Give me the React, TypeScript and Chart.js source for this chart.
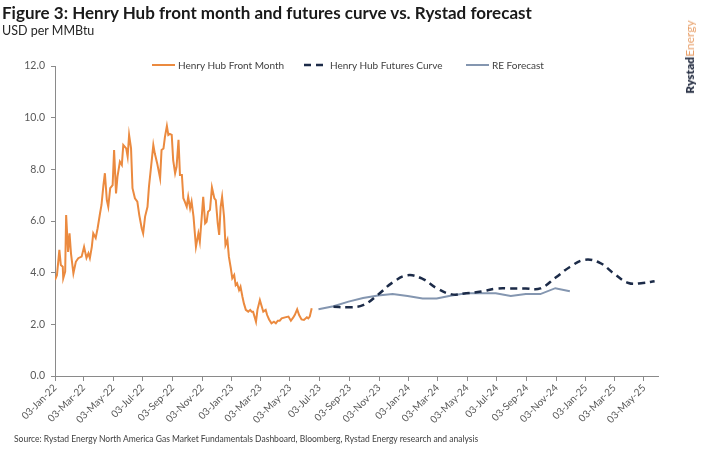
import React, { useEffect, useRef } from 'react';
import { Chart, registerables } from 'chart.js';

Chart.register(...registerables);

// Henry Hub front month (USD/MMBtu)
const hhDates = [
  '2022-01-03', '2022-01-07', '2022-01-12', '2022-01-15', '2022-01-19', '2022-01-20', '2022-01-24', '2022-01-26',
  '2022-01-30', '2022-02-02', '2022-02-05', '2022-02-10', '2022-02-15', '2022-02-20', '2022-02-27', '2022-03-04',
  '2022-03-09', '2022-03-13', '2022-03-16', '2022-03-20', '2022-03-23', '2022-03-28', '2022-04-01', '2022-04-06',
  '2022-04-09', '2022-04-13', '2022-04-16', '2022-04-20', '2022-04-23', '2022-04-27', '2022-05-02', '2022-05-05',
  '2022-05-09', '2022-05-12', '2022-05-17', '2022-05-21', '2022-05-24', '2022-05-30', '2022-06-02', '2022-06-05',
  '2022-06-09', '2022-06-12', '2022-06-17', '2022-06-22', '2022-06-26', '2022-07-01', '2022-07-04', '2022-07-08',
  '2022-07-13', '2022-07-16', '2022-07-20', '2022-07-25', '2022-07-28', '2022-08-02', '2022-08-08', '2022-08-11',
  '2022-08-15', '2022-08-18', '2022-08-22', '2022-08-25', '2022-08-28', '2022-09-01', '2022-09-04', '2022-09-08',
  '2022-09-11', '2022-09-15', '2022-09-18', '2022-09-22', '2022-09-25', '2022-09-28', '2022-10-02', '2022-10-05',
  '2022-10-09', '2022-10-12', '2022-10-16', '2022-10-21', '2022-10-26', '2022-10-29', '2022-11-02', '2022-11-05',
  '2022-11-09', '2022-11-12', '2022-11-15', '2022-11-19', '2022-11-23', '2022-11-28', '2022-12-01', '2022-12-05',
  '2022-12-08', '2022-12-11', '2022-12-14', '2022-12-18', '2022-12-21', '2022-12-25', '2022-12-28', '2023-01-01',
  '2023-01-04', '2023-01-08', '2023-01-11', '2023-01-14', '2023-01-18', '2023-01-21', '2023-01-25', '2023-01-28',
  '2023-02-01', '2023-02-06', '2023-02-10', '2023-02-13', '2023-02-16', '2023-02-22', '2023-02-25', '2023-03-02',
  '2023-03-06', '2023-03-09', '2023-03-14', '2023-03-17', '2023-03-21', '2023-03-26', '2023-03-31', '2023-04-04',
  '2023-04-08', '2023-04-12', '2023-04-16', '2023-04-23', '2023-04-30', '2023-05-05', '2023-05-10', '2023-05-13',
  '2023-05-18', '2023-05-22', '2023-05-27', '2023-06-01', '2023-06-07', '2023-06-10', '2023-06-13', '2023-06-17',
];
const hhValues = [
  3.72, 3.9, 4.88, 4.3, 4.23, 3.78, 4.04, 6.23,
  4.8, 5.52, 4.75, 3.97, 4.42, 4.56, 4.62, 5.0,
  4.57, 4.75, 4.56, 5.0, 5.52, 5.34, 5.72, 6.3,
  6.62, 7.39, 7.85, 6.81, 6.55, 7.27, 7.39, 8.75,
  7.07, 7.72, 8.3, 8.17, 8.94, 8.81, 8.49, 9.33,
  8.81, 7.27, 6.88, 6.75, 6.23, 5.72, 5.52, 6.17,
  6.55, 7.33, 8.04, 8.94, 8.62, 8.23, 7.65, 8.75,
  8.81, 9.26, 9.68, 9.33, 9.37, 9.33, 8.36, 7.85,
  8.1, 9.14, 7.78, 7.78, 6.88, 6.75, 6.55, 6.94,
  6.49, 6.75, 6.17, 5.0, 5.52, 5.2, 6.17, 6.94,
  5.91, 5.97, 6.36, 6.43, 7.3, 6.88, 6.81, 5.91,
  5.46, 6.55, 6.94, 6.17, 5.07, 5.27, 4.62, 4.17,
  3.78, 3.91, 3.52, 3.59, 3.33, 3.46, 3.07, 2.81,
  2.56, 2.49, 2.56, 2.49, 2.49, 2.1, 2.56, 2.94,
  2.68, 2.49, 2.56, 2.36, 2.19, 2.04, 2.1, 2.04,
  2.14, 2.14, 2.23, 2.27, 2.3, 2.14, 2.27, 2.36,
  2.58, 2.36, 2.19, 2.17, 2.27, 2.23, 2.3, 2.62,
];

// Henry Hub futures curve
const futDates = [
  '2023-08-01', '2023-09-01', '2023-10-01', '2023-11-01', '2023-12-01', '2024-01-01', '2024-02-01', '2024-03-01',
  '2024-04-01', '2024-05-01', '2024-06-01', '2024-07-01', '2024-08-01', '2024-09-01', '2024-10-01', '2024-11-01',
  '2024-12-01', '2025-01-01', '2025-02-01', '2025-03-01', '2025-04-01', '2025-05-01', '2025-05-25',
];
const futValues = [
  2.68, 2.66, 2.74, 3.15, 3.62, 3.9, 3.76, 3.4,
  3.16, 3.2, 3.27, 3.38, 3.39, 3.39, 3.39, 3.8,
  4.22, 4.5, 4.38, 3.98, 3.6, 3.6, 3.67,
];

// Rystad Energy forecast
const reDates = [
  '2023-07-01', '2023-08-01', '2023-09-01', '2023-10-01', '2023-11-01', '2023-12-01', '2024-01-01', '2024-02-01',
  '2024-03-01', '2024-04-01', '2024-05-01', '2024-06-01', '2024-07-01', '2024-08-01', '2024-09-01', '2024-10-01',
  '2024-11-01', '2024-12-01',
];
const reValues = [
  2.58, 2.7, 2.88, 3.02, 3.12, 3.17, 3.1, 3.0,
  3.0, 3.12, 3.2, 3.2, 3.2, 3.1, 3.17, 3.17,
  3.4, 3.28,
];

const xTickLabels = [
  '03-Jan-22', '03-Mar-22', '03-May-22', '03-Jul-22', '03-Sep-22', '03-Nov-22', '03-Jan-23',
  '03-Mar-23', '03-May-23', '03-Jul-23', '03-Sep-23', '03-Nov-23', '03-Jan-24', '03-Mar-24',
  '03-May-24', '03-Jul-24', '03-Sep-24', '03-Nov-24', '03-Jan-25', '03-Mar-25', '03-May-25',
];
const xMinDate = '2022-01-03';
const xMaxDate = '2025-06-01';

const MONTHS = ['Jan', 'Feb', 'Mar', 'Apr', 'May', 'Jun', 'Jul', 'Aug', 'Sep', 'Oct', 'Nov', 'Dec'];
const isoDay = (s: string) => {
  const [y, m, d] = s.split('-').map(Number);
  return Date.UTC(y, m - 1, d) / 864e5;
};
const labelDay = (s: string) => {
  const [d, mon, yy] = s.split('-');
  return Date.UTC(2000 + Number(yy), MONTHS.indexOf(mon), Number(d)) / 864e5;
};
const pts = (dates: string[], vals: number[]) => dates.map((d, i) => ({ x: isoDay(d), y: vals[i] }));

const ORANGE = '#EB8A3F';
const NAVY = '#1C2B48';
const GREY = '#8496B0';
const AXIS = '#8a8a8a';
const TEXT = '#595959';
const FONT = 'Lato, "Open Sans", sans-serif';

export default function App() {
  const ref = useRef<HTMLCanvasElement | null>(null);

  useEffect(() => {
    if (!ref.current) return;
    const tickDays = xTickLabels.map(labelDay);
    const chart = new Chart(ref.current, {
      type: 'line',
      data: {
        datasets: [
          {
            label: 'Henry Hub Front Month',
            data: pts(hhDates, hhValues),
            borderColor: ORANGE,
            borderWidth: 2,
            pointRadius: 0,
            tension: 0,
          },
          {
            label: 'Henry Hub Futures Curve',
            data: pts(futDates, futValues),
            borderColor: NAVY,
            borderWidth: 2.5,
            borderDash: [7, 5],
            pointRadius: 0,
            tension: 0.4,
          },
          {
            label: 'RE Forecast',
            data: pts(reDates, reValues),
            borderColor: GREY,
            borderWidth: 2,
            pointRadius: 0,
            tension: 0,
          },
        ],
      },
      options: {
        animation: false,
        responsive: false,
        events: [],
        layout: { padding: { top: 66, right: 44, left: 0, bottom: 0 } },
        plugins: { legend: { display: false }, tooltip: { enabled: false } },
        scales: {
          x: {
            type: 'linear',
            min: isoDay(xMinDate),
            max: isoDay(xMaxDate),
            afterBuildTicks: (scale: any) => {
              scale.ticks = tickDays.map((v) => ({ value: v }));
            },
            afterFit: (scale: any) => {
              scale.height = 74;
            },
            grid: { display: true, drawOnChartArea: false, drawTicks: true, tickLength: 5, color: AXIS },
            border: { display: true, color: AXIS, width: 1 },
            ticks: {
              autoSkip: false,
              maxRotation: 45,
              minRotation: 45,
              padding: 1,
              color: TEXT,
              font: { family: FONT, size: 10 },
              callback: (_v: any, i: number) => xTickLabels[i],
            },
          },
          y: {
            min: 0,
            max: 12,
            afterFit: (scale: any) => {
              scale.width = 55;
            },
            grid: { display: true, drawOnChartArea: false, drawTicks: true, tickLength: 4, color: AXIS },
            border: { display: true, color: AXIS, width: 1 },
            ticks: {
              stepSize: 2,
              padding: 6,
              color: TEXT,
              font: { family: FONT, size: 10.5 },
              callback: (v: any) => Number(v).toFixed(1),
            },
          },
        },
      },
    } as any);
    return () => chart.destroy();
  }, []);

  const legendItems = [
    { label: 'Henry Hub Front Month', color: ORANGE, dash: '', width: 2, left: 152 },
    { label: 'Henry Hub Futures Curve', color: NAVY, dash: '7 5', width: 2.5, left: 304 },
    { label: 'RE Forecast', color: GREY, dash: '', width: 2, left: 466 },
  ];

  return (
    <div style={{ position: 'absolute', left: 0, top: 0, width: 702, height: 450, background: '#fff', fontFamily: FONT }}>
      <canvas ref={ref} width={702} height={450} style={{ position: 'absolute', left: 0, top: 0, width: 702, height: 450 }} />
      <div style={{ position: 'absolute', left: 2, top: 3, fontSize: 17, fontWeight: 700, color: '#1a1a1a', lineHeight: '20px', whiteSpace: 'nowrap' }}>
        Figure 3: Henry Hub front month and futures curve vs. Rystad forecast
      </div>
      <div style={{ position: 'absolute', left: 2, top: 23, fontSize: 12.5, color: '#262626', lineHeight: '16px', whiteSpace: 'nowrap' }}>
        USD per MMBtu
      </div>
      {legendItems.map((it) => (
        <div key={it.label} style={{ position: 'absolute', left: it.left, top: 58, height: 14, display: 'flex', alignItems: 'center', whiteSpace: 'nowrap' }}>
          <svg width={23} height={14} style={{ display: 'block' }}>
            <line x1={0} y1={7} x2={23} y2={7} stroke={it.color} strokeWidth={it.width} strokeDasharray={it.dash || undefined} />
          </svg>
          <span style={{ marginLeft: 3, fontSize: 10, color: '#404040', lineHeight: '14px' }}>{it.label}</span>
        </div>
      ))}
      <div style={{ position: 'absolute', left: 14, top: 434, fontSize: 8.5, color: '#404040', lineHeight: '10px', whiteSpace: 'nowrap' }}>
        Source: Rystad Energy North America Gas Market Fundamentals Dashboard, Bloomberg, Rystad Energy research and analysis
      </div>
      <div style={{ position: 'absolute', left: 690, top: 57, width: 0, height: 0 }}>
        <div style={{ position: 'absolute', left: 0, top: 0, transform: 'translate(-50%, -50%) rotate(-90deg)', fontSize: 12, whiteSpace: 'nowrap', lineHeight: '14px' }}>
          <span style={{ fontWeight: 800, color: '#2b3347' }}>Rystad</span>
          <span style={{ fontWeight: 400, color: '#E8A06A' }}>Energy</span>
        </div>
      </div>
    </div>
  );
}
